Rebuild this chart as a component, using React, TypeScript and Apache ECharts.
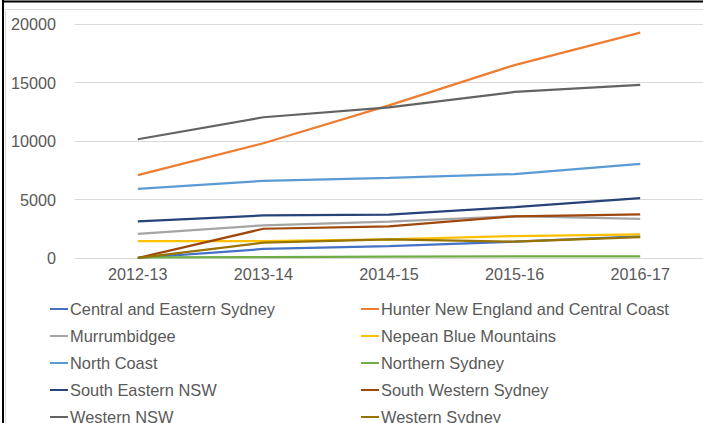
import React, { useEffect, useRef } from "react";
import * as echarts from "echarts";

const categories = ["2012-13", "2013-14", "2014-15", "2015-16", "2016-17"];
const yTicks = [0, 5000, 10000, 15000, 20000];

const centralEasternSydney = [0, 770, 1020, 1390, 1850];
const hunterNewEngland = [7080, 9810, 13050, 16490, 19260];
const murrumbidgee = [2070, 2790, 3100, 3580, 3350];
const nepeanBlueMountains = [1450, 1450, 1590, 1880, 2020];
const northCoast = [5910, 6600, 6850, 7170, 8050];
const northernSydney = [50, 80, 120, 130, 140];
const southEasternNSW = [3130, 3640, 3700, 4350, 5120];
const southWesternSydney = [0, 2500, 2700, 3560, 3730];
const westernNSW = [10150, 12030, 12880, 14190, 14790];
const westernSydney = [0, 1310, 1600, 1390, 1790];

const seriesNames = [
  "Central and Eastern Sydney",
  "Hunter New England and Central Coast",
  "Murrumbidgee",
  "Nepean Blue Mountains",
  "North Coast",
  "Northern Sydney",
  "South Eastern NSW",
  "South Western Sydney",
  "Western NSW",
  "Western Sydney",
];
const seriesValues = [
  centralEasternSydney,
  hunterNewEngland,
  murrumbidgee,
  nepeanBlueMountains,
  northCoast,
  northernSydney,
  southEasternNSW,
  southWesternSydney,
  westernNSW,
  westernSydney,
];
const colors = [
  "#4472C4",
  "#ED7D31",
  "#A5A5A5",
  "#FFC000",
  "#5B9BD5",
  "#70AD47",
  "#264478",
  "#9E480E",
  "#636363",
  "#997300",
];

export default function App() {
  const ref = useRef<HTMLDivElement>(null);
  useEffect(() => {
    document.body.style.margin = "0";
    const chart = echarts.init(ref.current!, null, { renderer: "svg" });
    const font = "Liberation Sans, Arial, sans-serif";
    const leftNames = seriesNames.filter((_, i) => i % 2 === 0);
    const rightNames = seriesNames.filter((_, i) => i % 2 === 1);
    const legendCommon = {
      orient: "vertical" as const,
      icon: "rect",
      itemWidth: 18,
      itemHeight: 2,
      itemGap: 11,
      height: 200,
      textStyle: { fontFamily: font, fontSize: 16.4, color: "#595959", lineHeight: 16, padding: [0, 0, 0, -3] },
      padding: 0,
    };
    chart.setOption({
      animation: false,
      color: colors,
      textStyle: { fontFamily: font },
      graphic: [
        { type: "rect", shape: { x: 5.5, y: 9.5, width: 720, height: 440 }, style: { fill: "none", stroke: "#D9D9D9", lineWidth: 1 } },
        { type: "line", shape: { x1: 2, y1: 1.5, x2: 703, y2: 1.5 }, style: { stroke: "#000", lineWidth: 2 } },
        { type: "line", shape: { x1: 3, y1: 0, x2: 3, y2: 423 }, style: { stroke: "#000", lineWidth: 2 } },
      ],
      grid: { left: 75, right: 0, top: 24, bottom: 165 },
      xAxis: {
        type: "category",
        data: categories,
        boundaryGap: true,
        axisLine: { show: false },
        axisTick: { show: false },
        axisLabel: { fontFamily: font, fontSize: 16.2, color: "#595959", margin: 8 },
      },
      yAxis: {
        type: "value",
        min: yTicks[0],
        max: yTicks[yTicks.length - 1],
        interval: 5000,
        axisLine: { show: false },
        axisTick: { show: false },
        axisLabel: { fontFamily: font, fontSize: 16.2, color: "#595959", margin: 19, formatter: (v: number) => String(v) },
        splitLine: { lineStyle: { color: "#D9D9D9", width: 1 } },
      },
      legend: [
        { ...legendCommon, left: 50, top: 301, data: leftNames },
        { ...legendCommon, left: 361, top: 301, data: rightNames },
      ],
      series: seriesNames.map((name, i) => ({
        name,
        type: "line",
        data: seriesValues[i],
        symbol: "none",
        lineStyle: { width: 2.25, color: colors[i] },
        itemStyle: { color: colors[i] },
      })),
    });
    return () => chart.dispose();
  }, []);
  return <div ref={ref} style={{ width: 703, height: 423 }} />;
}
